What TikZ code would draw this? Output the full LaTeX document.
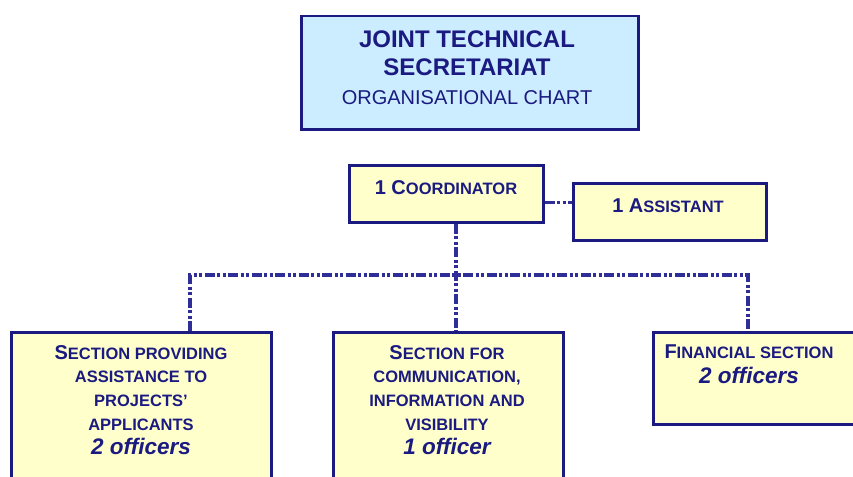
\documentclass[tikz,border=0pt]{standalone}
\usepackage{fontspec}
\setmainfont{Liberation Sans}
\definecolor{navy}{HTML}{1A1A80}
\definecolor{linec}{HTML}{2E2E96}
\definecolor{boxy}{HTML}{FFFFCC}
\definecolor{boxb}{HTML}{CCECFF}
\newcommand\capsc[3][20]{{\fontsize{#1}{23.7}\selectfont #2}{\fontsize{16.5}{23.7}\selectfont #3}}
\begin{document}
\begin{tikzpicture}[x=1pt,y=-1pt,
  ybox/.style={draw=navy,line width=2.5pt,fill=boxy,inner sep=0pt},
  bbox/.style={draw=navy,line width=2.5pt,fill=boxb,inner sep=0pt},
  txt/.style={text=navy,inner sep=0pt,align=center,font=\bfseries\fontsize{16.5}{23.7}\selectfont},
  link/.style={draw=linec,line width=3.2pt,dash pattern=on 10pt off 2.5pt on 3pt off 2.5pt on 3pt off 2.5pt}]
\useasboundingbox[fill=white] (0,0) rectangle (853,476);
\begin{scope}
\clip (0,0) rectangle (853,476);
% top title box
\node[bbox,anchor=north west,minimum width=337pt,minimum height=113pt] (title) at (300,15) {};
\node[txt,font=\bfseries\fontsize{24}{26}\selectfont] (t1) at (467,39) {JOINT TECHNICAL};
\node[txt,font=\bfseries\fontsize{24}{26}\selectfont] (t2) at (467,67) {SECRETARIAT};
\node[txt,font=\fontsize{20}{22}\selectfont] (t3) at (467,98) {ORGANISATIONAL CHART};
% coordinator and assistant
\node[ybox,anchor=north west,minimum width=194pt,minimum height=57pt] (coord) at (348,164) {};
\node[txt,anchor=base] (coordt) at (446,194) {\capsc{1 C}{OORDINATOR}};
\node[ybox,anchor=north west,minimum width=193pt,minimum height=57pt] (ass) at (572,182) {};
\node[txt,anchor=base] (asst) at (668,212) {\capsc{1 A}{SSISTANT}};
% sections
\node[ybox,anchor=north west,minimum width=260pt,minimum height=200pt] (s1) at (10,331) {};
\node[ybox,anchor=north west,minimum width=230pt,minimum height=200pt] (s2) at (332,331) {};
\node[ybox,anchor=north west,minimum width=240pt,minimum height=92pt] (s3) at (652,331) {};
\node[txt,anchor=north] (s1t) at (141,345) {\capsc{S}{ECTION PROVIDING}\\
  \capsc[16.5]{}{ASSISTANCE TO}\\ \capsc[16.5]{}{PROJECTS'}\\ \capsc[16.5]{}{APPLICANTS}\\[0.5pt]
  {\itshape\fontsize{22.5}{24}\selectfont 2 officers}};
\node[txt,anchor=north] (s2t) at (447,345) {\capsc{S}{ECTION FOR}\\
  \capsc[16.5]{}{COMMUNICATION,}\\ \capsc[16.5]{}{INFORMATION AND}\\ \capsc[16.5]{}{VISIBILITY}\\[0.5pt]
  {\itshape\fontsize{22.5}{24}\selectfont 1 officer}};
\node[txt,anchor=north] (s3t) at (749,345) {\capsc{F}{INANCIAL SECTION}\\[0.5pt]
  {\itshape\fontsize{22.5}{24}\selectfont 2 officers}};
% connectors
\coordinate (j) at (456,275);
\coordinate (jl) at (190,275);
\coordinate (jr) at (748,275);
\draw[link] ([yshift=-8.5pt]coord.east) -- ([yshift=-8.5pt]coord.east -| ass.west);
\draw[link] (j |- coord.south) -- (j |- s2.north);
\draw[link] (jl |- s1.north) -- (jl) -- (jr) -- (jr |- s3.north);
\end{scope}
\end{tikzpicture}
\end{document}
